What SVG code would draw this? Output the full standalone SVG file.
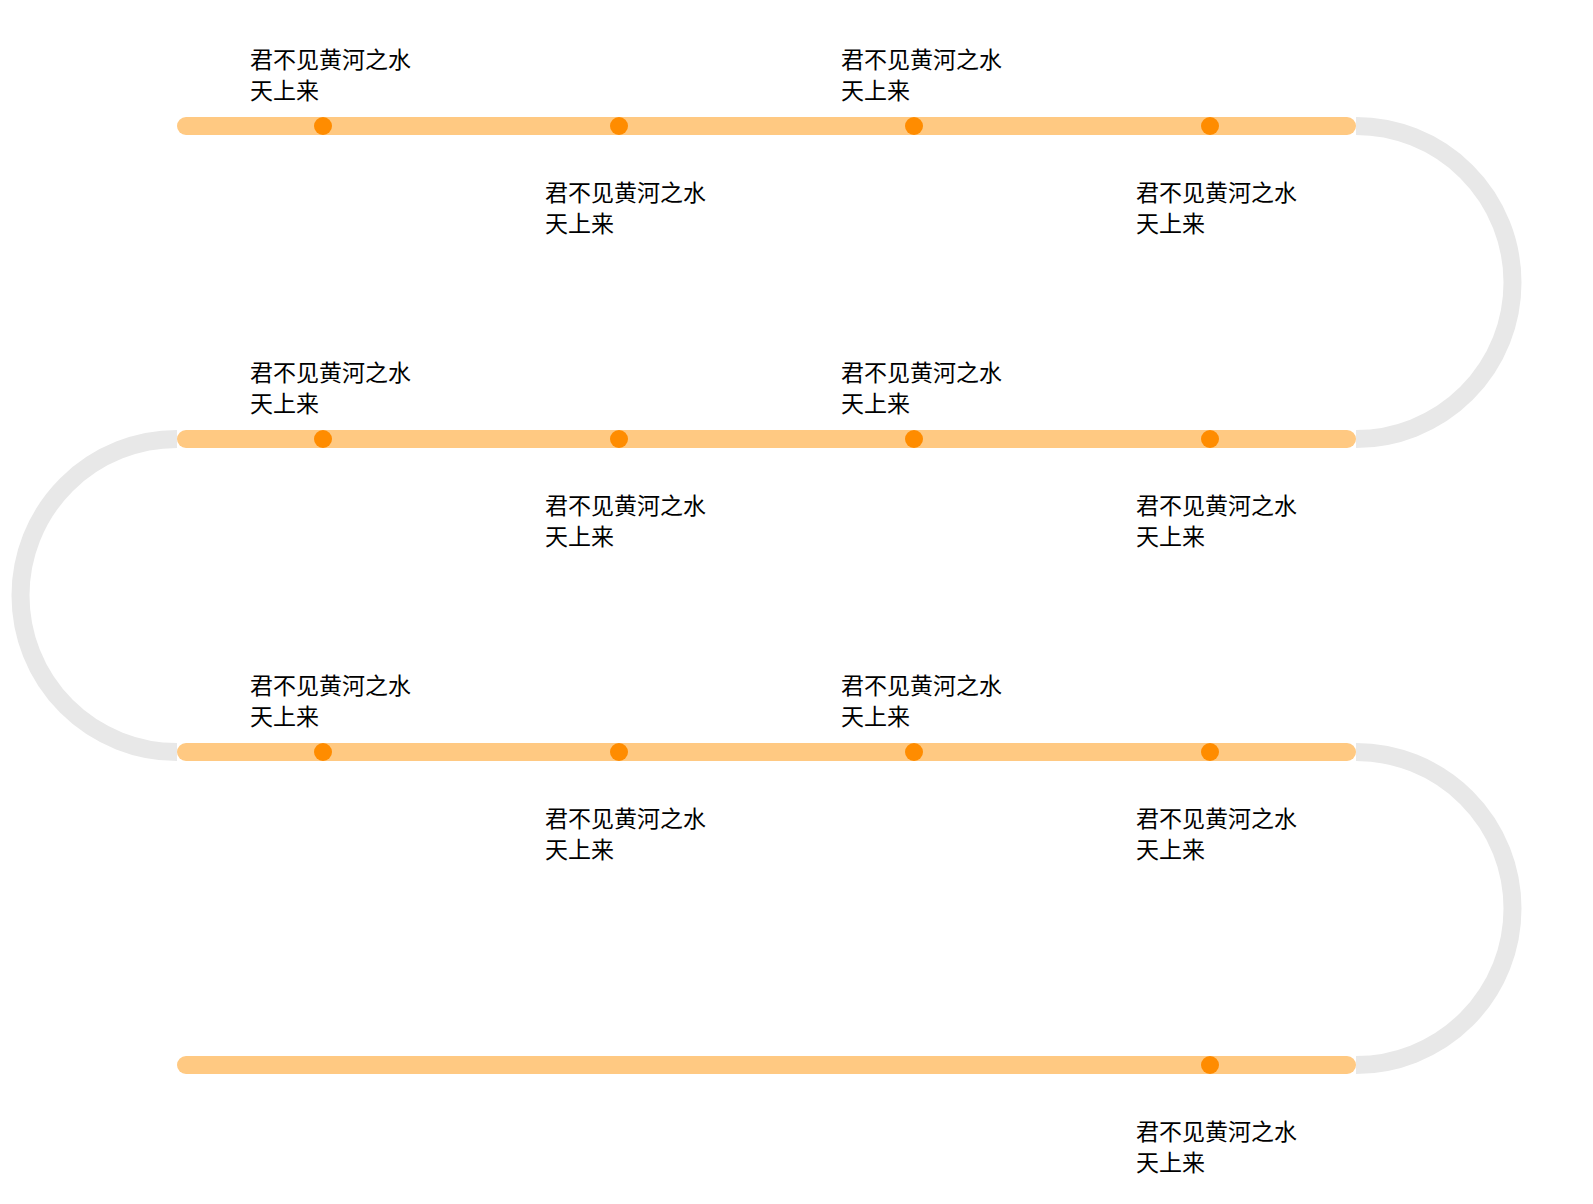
<svg xmlns="http://www.w3.org/2000/svg" width="1593" height="1204" viewBox="0 0 1593 1204">
<style>
.track{stroke:#ffc982;stroke-width:18;stroke-linecap:round;fill:none}
.curve{stroke:#e8e8e8;stroke-width:18;fill:none}
.dot{fill:#ff8c00}
text{font-family:"Noto Sans CJK SC","Noto Sans",sans-serif;font-size:23px;fill:#000}
</style>
<g id="connectors">
<path class="curve" d="M1356,126 A156.5,156.5 0 0 1 1356,439"/>
<path class="curve" d="M177,439 A156.5,156.5 0 0 0 177,752"/>
<path class="curve" d="M1356,752 A156.5,156.5 0 0 1 1356,1065"/>
<line class="track" x1="186" y1="126" x2="1347" y2="126"/>
<line class="track" x1="186" y1="439" x2="1347" y2="439"/>
<line class="track" x1="186" y1="752" x2="1347" y2="752"/>
<line class="track" x1="186" y1="1065" x2="1347" y2="1065"/>
</g>
<g id="row1">
<circle class="dot" cx="323" cy="126" r="9"/><circle class="dot" cx="619" cy="126" r="9"/><circle class="dot" cx="914" cy="126" r="9"/><circle class="dot" cx="1210" cy="126" r="9"/>
<text x="250" y="68">君不见黄河之水<tspan x="250" dy="31">天上来</tspan></text>
<text x="545" y="201">君不见黄河之水<tspan x="545" dy="31">天上来</tspan></text>
<text x="841" y="68">君不见黄河之水<tspan x="841" dy="31">天上来</tspan></text>
<text x="1136" y="201">君不见黄河之水<tspan x="1136" dy="31">天上来</tspan></text>
</g>
<g id="row2">
<circle class="dot" cx="323" cy="439" r="9"/><circle class="dot" cx="619" cy="439" r="9"/><circle class="dot" cx="914" cy="439" r="9"/><circle class="dot" cx="1210" cy="439" r="9"/>
<text x="250" y="381">君不见黄河之水<tspan x="250" dy="31">天上来</tspan></text>
<text x="545" y="514">君不见黄河之水<tspan x="545" dy="31">天上来</tspan></text>
<text x="841" y="381">君不见黄河之水<tspan x="841" dy="31">天上来</tspan></text>
<text x="1136" y="514">君不见黄河之水<tspan x="1136" dy="31">天上来</tspan></text>
</g>
<g id="row3">
<circle class="dot" cx="323" cy="752" r="9"/><circle class="dot" cx="619" cy="752" r="9"/><circle class="dot" cx="914" cy="752" r="9"/><circle class="dot" cx="1210" cy="752" r="9"/>
<text x="250" y="694">君不见黄河之水<tspan x="250" dy="31">天上来</tspan></text>
<text x="545" y="827">君不见黄河之水<tspan x="545" dy="31">天上来</tspan></text>
<text x="841" y="694">君不见黄河之水<tspan x="841" dy="31">天上来</tspan></text>
<text x="1136" y="827">君不见黄河之水<tspan x="1136" dy="31">天上来</tspan></text>
</g>
<g id="row4">
<circle class="dot" cx="1210" cy="1065" r="9"/>
<text x="1136" y="1140">君不见黄河之水<tspan x="1136" dy="31">天上来</tspan></text>
</g>
</svg>
